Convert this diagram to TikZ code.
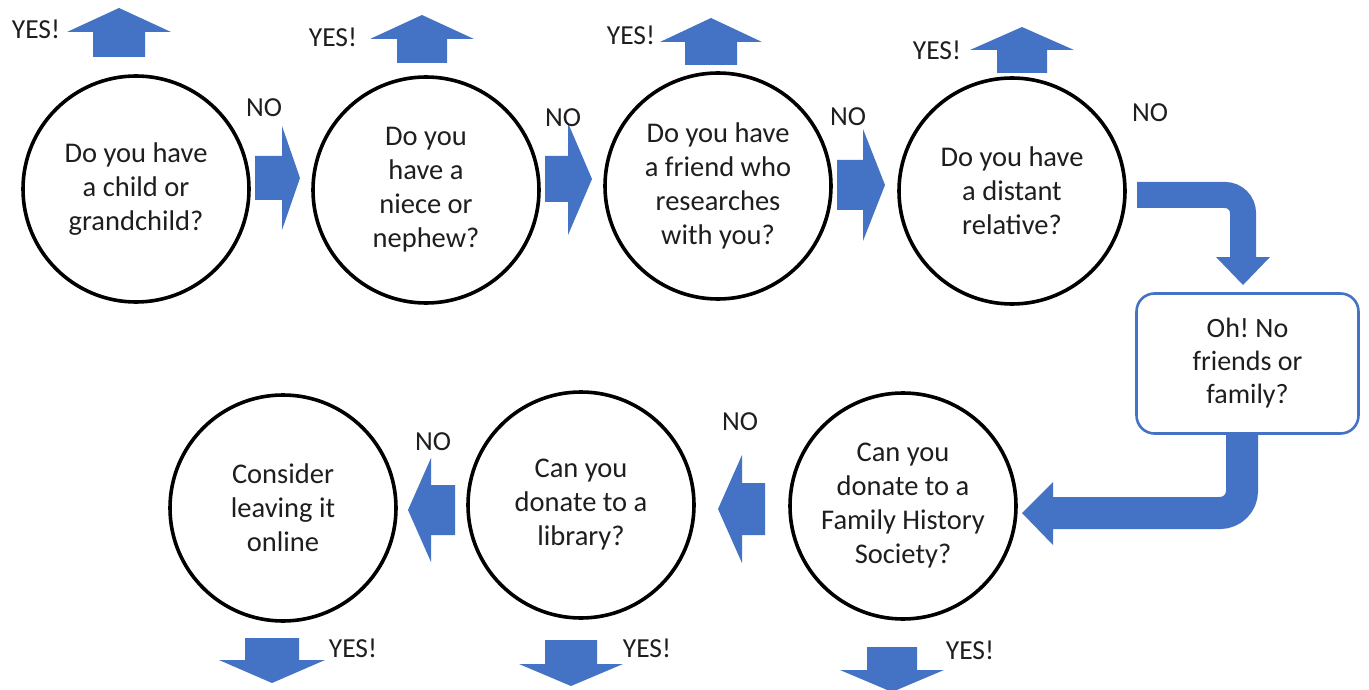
\documentclass[tikz,border=0pt]{standalone}
\usepackage{fontspec}
\setmainfont{Carlito}
\definecolor{ablue}{RGB}{68,114,196}
\definecolor{txt}{RGB}{30,30,30}
% #1 x, #2 y (tail centre), #3 angle, #4 length, #5 shaft half width, #6 head half width, #7 head length
\newcommand{\BlockArrow}[7]{%
  \begin{scope}[shift={(#1,#2)},rotate=#3]
    \fill[ablue] (0,-#5) -- ({#4-#7},-#5) -- ({#4-#7},-#6) -- (#4,0) -- ({#4-#7},#6) -- ({#4-#7},#5) -- (0,#5) -- cycle;
  \end{scope}}
\begin{document}
\begin{tikzpicture}[x=1pt,y=-1pt,
  q/.style={circle,draw=black,fill=white,line width=3.6pt,minimum size=226pt,inner sep=0pt,align=center,
            font=\fontsize{28.5}{34}\selectfont,text=txt},
  boxq/.style={rectangle,rounded corners=18pt,draw=ablue,fill=white,line width=2.6pt,minimum width=222pt,
            minimum height=140pt,inner sep=0pt,align=center,font=\fontsize{28}{33}\selectfont,text=txt},
  lab/.style={font=\fontsize{27.5}{30}\selectfont,text=txt,inner sep=0pt},
  bent/.style={draw=ablue,line cap=butt}]
\useasboundingbox (0,0) rectangle (1369,690);
\fill[white] (0,0) rectangle (1369,690);

% question nodes
\node[q] (c1) at (136,189) {Do you have\\a child or\\grandchild?};
\node[q] (c2) at (426,190) {Do you\\have a\\niece or\\nephew?};
\node[q] (c3) at (718,186) {Do you have\\a friend who\\researches\\with you?};
\node[q] (c4) at (1012,191) {Do you have\\a distant\\relative?};
\node[q] (c5) at (903,506) {Can you\\donate to a\\Family History\\Society?};
\node[q] (c6) at (581,505) {Can you\\donate to a\\library?};
\node[q] (c7) at (283,508) {Consider\\leaving it\\online};

% bent connectors
\coordinate (b1s) at (1137,195);
\coordinate (b1e) at (1243,258);
\draw[bent,line width=26pt,rounded corners=18pt] (b1s) -| (b1e);
\fill[ablue] (1216,257) -- (1270,257) -- (1243,285) -- cycle;
\coordinate (b2s) at (1242,430);
\coordinate (b2e) at (1052,513);
\draw[bent,line width=32pt,rounded corners=22pt] (b2s) |- (b2e);
\fill[ablue] (1053,482) -- (1053,545) -- (1022,513) -- cycle;

\node[boxq] (box) at (1247.5,363.5) {Oh!\ No\\friends or\\family?};

% YES arrows (up)
\BlockArrow{119}{57}{90}{49}{26}{52}{24}
\BlockArrow{422}{63}{90}{48}{25}{52}{24}
\BlockArrow{711}{65}{90}{47}{26}{51}{24}
\BlockArrow{1022}{73}{90}{46}{25}{52}{23}
% NO arrows (right)
\BlockArrow{255}{178}{0}{45}{22}{52}{18}
\BlockArrow{545}{179}{0}{47}{23}{56}{24}
\BlockArrow{837}{185}{0}{48}{25}{56}{22}
% NO arrows (left)
\BlockArrow{455}{510}{180}{47}{25}{52}{23}
\BlockArrow{765}{509}{180}{47}{26}{54}{24}
% YES arrows (down)
\BlockArrow{272}{638}{-90}{45}{27}{53}{23}
\BlockArrow{571}{640}{-90}{46}{26}{52}{22}
\BlockArrow{892}{647}{-90}{45}{25}{52}{22}

% labels
\node[lab] (y1) at (36,29) {YES!};
\node[lab] (y2) at (333,37) {YES!};
\node[lab] (y3) at (631,35) {YES!};
\node[lab] (y4) at (937,50) {YES!};
\node[lab] (n1) at (264,108) {NO};
\node[lab] (n2) at (563,118) {NO};
\node[lab] (n3) at (848,117) {NO};
\node[lab] (n4) at (1150,113) {NO};
\node[lab] (n5) at (740,422) {NO};
\node[lab] (n6) at (433,442) {NO};
\node[lab] (y5) at (353,648) {YES!};
\node[lab] (y6) at (647,648) {YES!};
\node[lab] (y7) at (970,650) {YES!};
\end{tikzpicture}
\end{document}
